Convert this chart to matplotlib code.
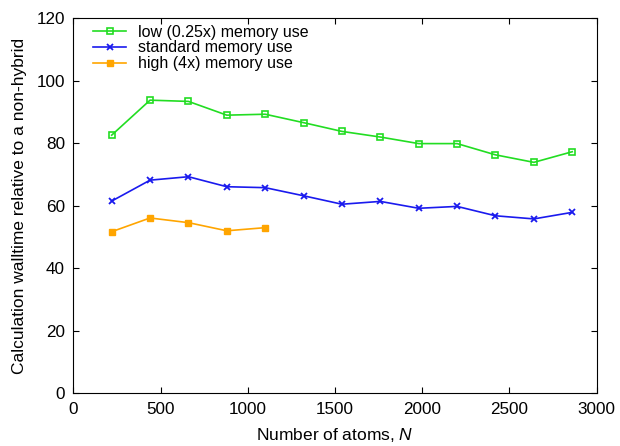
import matplotlib
matplotlib.use("Agg")
import matplotlib.pyplot as plt

plt.rcParams['font.family'] = ['Liberation Sans', 'DejaVu Sans']
plt.rcParams['mathtext.fontset'] = 'custom'
plt.rcParams['mathtext.it'] = 'Liberation Sans:italic'
plt.rcParams['mathtext.rm'] = 'Liberation Sans'

# atoms
atoms = [220, 440, 660, 880, 1100, 1320, 1540, 1760, 1980, 2200, 2420, 2640, 2860]
atoms_high = [220, 440, 660, 880, 1100]

# walltime relative to non-hybrid (%)
low_mem = [82.6, 93.8, 93.4, 89.0, 89.3, 86.6, 83.8, 82.0, 79.9, 79.9, 76.3, 73.9, 77.3]
std_mem = [61.5, 68.2, 69.3, 66.1, 65.8, 63.2, 60.5, 61.4, 59.2, 59.8, 56.8, 55.8, 57.9]
high_mem = [51.7, 56.1, 54.6, 52.0, 53.0]

fig = plt.figure(figsize=(6.2, 4.46), dpi=100)
ax = fig.add_axes([0.1182, 0.1182, 0.8442, 0.8408])

ax.plot(atoms, low_mem, color='#22dd22', marker='s', markersize=5, markerfacecolor='none',
        markeredgewidth=1.2, lw=1.2, label='low (0.25x) memory use')
ax.plot(atoms, std_mem, color='#1a1aee', marker='x', markersize=4.5, markeredgewidth=1.3,
        lw=1.2, label='standard memory use')
ax.plot(atoms_high, high_mem, color='#ffa500', marker='s', markersize=4.5, lw=1.2,
        label='high (4x) memory use')

ax.set_xlim(0, 3000)
ax.set_ylim(0, 120)
ax.set_xticks(range(0, 3001, 500))
ax.set_yticks(range(0, 121, 20))
ax.tick_params(direction='in', top=True, right=True, labelsize=12.3, length=4, pad=6)
ax.set_xlabel('Number of atoms, $N$', fontsize=12.5, labelpad=7)
ax.set_ylabel('Calculation walltime relative to a non-hybrid', fontsize=12.5, labelpad=7)

ax.legend(loc='upper left', bbox_to_anchor=(0.025, 1.0), frameon=False, fontsize=11.5,
          handlelength=2.1, labelspacing=0.05, borderaxespad=0, borderpad=0.4,
          handletextpad=0.75)

fig.savefig('out.png', dpi=100)
